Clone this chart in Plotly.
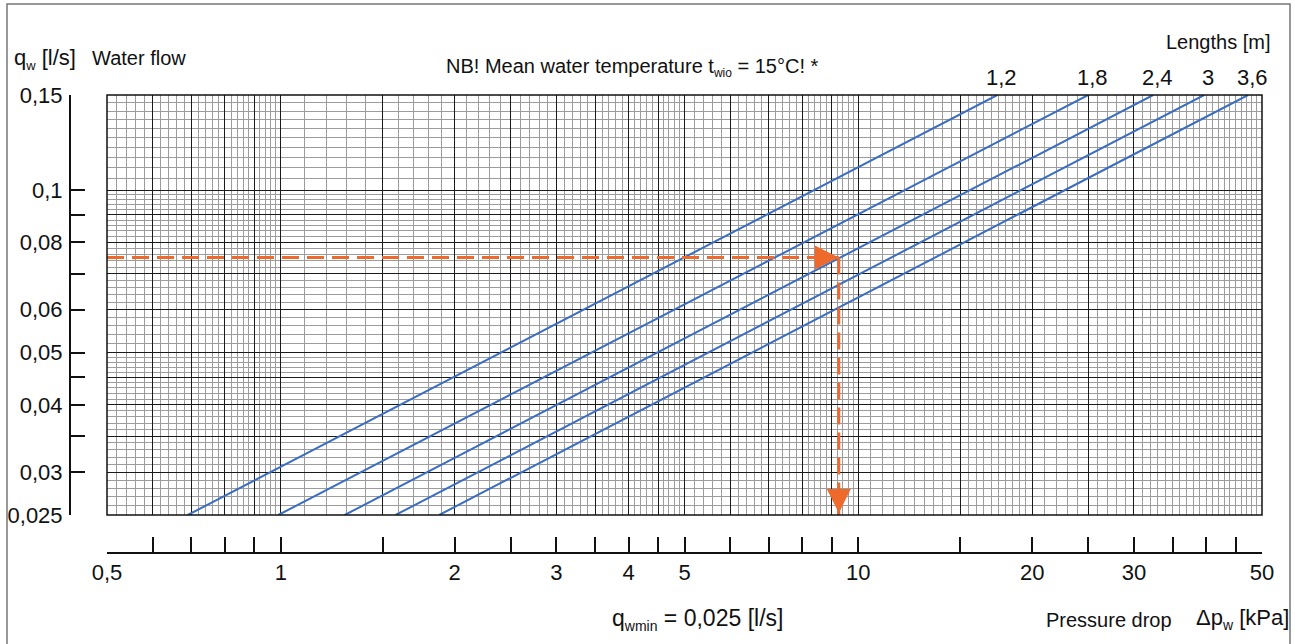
import numpy as np
import plotly.graph_objects as go

# ---------------- data ----------------
length_labels = ["1,2", "1,8", "2,4", "3", "3,6"]          # lengths [m]
q_ends = [0.025, 0.15]                                      # water flow range [l/s]
dp_at_qmin = [0.69, 0.99, 1.29, 1.58, 1.88]                 # pressure drop at q=0.025 [kPa]
dp_at_qmax = [17.4, 25.0, 32.4, 39.7, 47.3]                 # pressure drop at q=0.15 [kPa]

example_q = 0.075
example_dp = 9.25

x_tick_vals = [0.5, 0.6, 0.7, 0.8, 0.9, 1, 1.5, 2, 2.5, 3, 3.5, 4, 4.5, 5, 6, 7, 8, 9,
               10, 15, 20, 25, 30, 35, 40, 45, 50]
x_label_map = {0.5: "0,5", 1: "1", 2: "2", 3: "3", 4: "4", 5: "5", 10: "10", 20: "20",
               30: "30", 50: "50"}
y_tick_vals = [0.025, 0.03, 0.035, 0.04, 0.045, 0.05, 0.06, 0.07, 0.08, 0.09, 0.1, 0.15]
y_label_map = {0.025: "0,025", 0.03: "0,03", 0.04: "0,04", 0.05: "0,05", 0.06: "0,06",
               0.08: "0,08", 0.1: "0,1", 0.15: "0,15"}

x_major_grid = [0.5, 0.6, 0.7, 0.8, 0.9, 1, 1.5, 2, 2.5, 3, 3.5, 4, 4.5, 5, 6, 7, 8, 9,
                10, 15, 20, 25, 30]
y_major_grid = y_tick_vals

x_minor_grid = sorted(set(np.round(np.concatenate([
    np.arange(0.52, 1.0, 0.02), np.arange(1.1, 2.0, 0.1), np.arange(2.1, 5.0, 0.1),
    np.arange(5.2, 10.0, 0.2), np.arange(10.5, 20.0, 0.5), np.arange(21, 50, 1.0)]), 4)))
y_minor_grid = sorted(set(np.round(np.concatenate([
    np.arange(0.026, 0.05, 0.001), np.arange(0.052, 0.1, 0.002),
    np.arange(0.105, 0.15, 0.005)]), 4)))

# ---------------- layout geometry ----------------
W, H = 1295, 644
ML, MR, MT, MB = 70, 33, 95, 91
PW = W - ML - MR
PH = H - MT - MB
x_dom0 = (107 - ML) / PW
y_dom0 = (553 - 515) / PH


def px_x(px):
    return (px - ML) / PW


def px_y(py):
    return (H - MB - py) / PH


FONT = "Liberation Sans, Arial, Helvetica, sans-serif"
BLUE = "#3b6dc2"
ORANGE = "#ee6a2c"

xr = [np.log10(0.5), np.log10(50)]
yr = [np.log10(0.025), np.log10(0.15)]


def sub(s, size):
    return "<sub><span style='font-size:%dpx'>%s</span></sub>" % (size, s)


fig = go.Figure()

# dummy traces to activate the overlay axes
fig.add_trace(go.Scatter(x=[0.5, 50], y=[0.025, 0.025], xaxis="x2", yaxis="y",
                         mode="markers", marker=dict(opacity=0), hoverinfo="skip",
                         showlegend=False))
fig.add_trace(go.Scatter(x=[0.5, 0.5], y=[0.025, 0.15], xaxis="x", yaxis="y2",
                         mode="markers", marker=dict(opacity=0), hoverinfo="skip",
                         showlegend=False))

# length lines
for lab, d0, d1 in zip(length_labels, dp_at_qmin, dp_at_qmax):
    fig.add_trace(go.Scatter(x=[d0, d1], y=q_ends, mode="lines",
                             line=dict(color=BLUE, width=2), showlegend=False,
                             name=lab, hoverinfo="skip"))

# orange example
fig.add_trace(go.Scatter(x=[0.5, example_dp], y=[example_q, example_q], mode="lines",
                         line=dict(color=ORANGE, width=3, dash="17px,8px"),
                         showlegend=False, hoverinfo="skip"))
fig.add_trace(go.Scatter(x=[example_dp, example_dp], y=[example_q, q_ends[0]], mode="lines",
                         line=dict(color=ORANGE, width=3, dash="17px,8px"),
                         showlegend=False, hoverinfo="skip"))

annotations = []
# arrowheads
annotations.append(dict(x=np.log10(example_dp), y=np.log10(example_q), xref="x", yref="y",
                        ax=-14, ay=0, text="", showarrow=True, arrowhead=2, arrowsize=1.6,
                        arrowwidth=3, arrowcolor=ORANGE, standoff=0))
annotations.append(dict(x=np.log10(example_dp), y=np.log10(q_ends[0]), xref="x", yref="y",
                        ax=0, ay=-14, text="", showarrow=True, arrowhead=2, arrowsize=1.6,
                        arrowwidth=3, arrowcolor=ORANGE, standoff=2))

# length labels at the top end of each line
for lab, d1 in zip(length_labels, dp_at_qmax):
    annotations.append(dict(x=np.log10(d1), y=px_y(78), xref="x", yref="paper",
                            text=lab, showarrow=False, xanchor="center", yanchor="middle",
                            xshift=4, font=dict(family=FONT, size=22, color="#111")))


def txt(text, px, py, size, anchor="left"):
    annotations.append(dict(x=px_x(px), y=px_y(py), xref="paper", yref="paper", text=text,
                            showarrow=False, xanchor=anchor, yanchor="middle",
                            font=dict(family=FONT, size=size, color="#111")))


txt("q" + sub("w", 13) + " [l/s]", 12, 59, 22)
txt("Water flow", 90, 58, 20)
txt("NB! Mean water temperature t" + sub("wio", 12) + " = 15°C! *", 632, 67, 20, "center")
txt("Lengths [m]", 1273, 42, 20, "right")
txt("q" + sub("wmin", 14) + " = 0,025 [l/s]", 610, 619, 23)
txt("Pressure drop", 1174, 620, 20, "right")
txt("Δp" + sub("w", 14) + " [kPa]", 1291, 619, 22, "right")

shapes = [
    # plot frame
    dict(type="rect", xref="x domain", yref="y domain", x0=0, x1=1, y0=0, y1=1,
         line=dict(color="#111", width=1.5), layer="above"),
    # outer border
    dict(type="rect", xref="paper", yref="paper", x0=px_x(7), x1=px_x(1290),
         y0=px_y(660), y1=px_y(4), line=dict(color="#777", width=1.5)),
]

fig.update_layout(
    width=W, height=H, margin=dict(l=ML, r=MR, t=MT, b=MB, pad=0, autoexpand=False),
    paper_bgcolor="white", plot_bgcolor="white", showlegend=False,
    font=dict(family=FONT, size=21, color="#111"),
    xaxis=dict(type="log", range=xr, domain=[x_dom0, 1], anchor="y", automargin=False,
               tickmode="array", tickvals=x_major_grid, showticklabels=False, ticks="",
               showgrid=True, gridcolor="#1a1a1a", gridwidth=1.2, zeroline=False,
               showline=False, fixedrange=True,
               minor=dict(tickmode="array", tickvals=x_minor_grid, showgrid=True,
                          gridcolor="#9c9c9c", gridwidth=1, ticks="")),
    yaxis=dict(type="log", range=yr, domain=[y_dom0, 1], anchor="x", automargin=False,
               tickmode="array", tickvals=y_major_grid, showticklabels=False, ticks="",
               showgrid=True, gridcolor="#1a1a1a", gridwidth=1.2, zeroline=False,
               showline=False, fixedrange=True,
               minor=dict(tickmode="array", tickvals=y_minor_grid, showgrid=True,
                          gridcolor="#9c9c9c", gridwidth=1, ticks="")),
    xaxis2=dict(type="log", range=xr, overlaying="x", anchor="free", position=0,
                automargin=False,
                side="bottom", tickmode="array", tickvals=x_tick_vals,
                ticktext=[x_label_map.get(v, "") for v in x_tick_vals],
                ticks="inside", ticklen=15, tickwidth=1.5, tickcolor="#111",
                showline=True, linecolor="#111", linewidth=2, showgrid=False,
                zeroline=False, ticklabelstandoff=0, fixedrange=True,
                tickfont=dict(family=FONT, size=22, color="#111")),
    yaxis2=dict(type="log", range=yr, overlaying="y", anchor="free", position=0,
                automargin=False,
                side="left", tickmode="array", tickvals=y_tick_vals,
                ticktext=[y_label_map.get(v, "") for v in y_tick_vals],
                ticks="inside", ticklen=14, tickwidth=2, tickcolor="#111",
                showline=True, linecolor="#111", linewidth=2, showgrid=False,
                zeroline=False, ticklabelstandoff=2, fixedrange=True,
                tickfont=dict(family=FONT, size=22, color="#111")),
    annotations=annotations,
    shapes=shapes,
)

fig.write_html("out.html", config={"displayModeBar": False},
               post_script="document.body.style.margin='0';"
                           "document.body.style.overflow='hidden';")
